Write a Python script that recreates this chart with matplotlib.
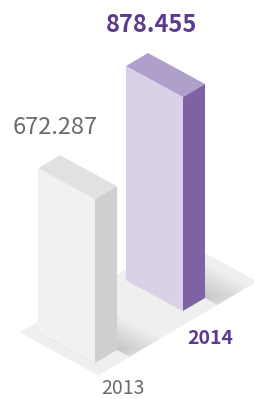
import matplotlib
matplotlib.use("Agg")
import matplotlib.pyplot as plt
from matplotlib.patches import Polygon
import numpy as np

# ---- data ----
years = ["2013", "2014"]
values = [672.287, 878.455]
value_labels = ["672.287", "878.455"]

# ---- style ----
front_colors = ["#f1f1f1", "#d9d1e8"]
top_colors = ["#e1e1e1", "#af9fcb"]
side_colors = ["#cfcfcf", "#7f62a6"]
text_colors = ["#6b6b6b", "#5b3a8f"]
text_weights = ["normal", "bold"]
floor_color = "#efefef"

plt.rcParams['font.family'] = ['Noto Sans CJK KR', 'DejaVu Sans']

fig = plt.figure(figsize=(2.54, 3.99), dpi=100)
ax = fig.add_axes([0, 0, 1, 1])
ax.set_xlim(0, 254)
ax.set_ylim(399, 0)
ax.axis("off")

# isometric projection (screen units)
origin = np.array([38.0, 332.0])
W = np.array([57.0, 31.0])     # bar width direction
D = np.array([22.0, -13.0])    # bar depth direction
k = 214.0 / max(values)        # height scale
depth_step = 4.0               # spacing of bars along depth
floor_u = (-0.16, 1.22)
floor_v = (-0.42, 6.8)


def P(u, v, h=0.0):
    p = origin + u * W + v * D
    return (p[0], p[1] - h * k)


def poly(pts, color, **kw):
    ax.add_patch(Polygon(pts, closed=True, facecolor=color, edgecolor="none", **kw))


# floor
poly([P(floor_u[0], floor_v[0]), P(floor_u[1], floor_v[0]),
      P(floor_u[1], floor_v[1]), P(floor_u[0], floor_v[1])], floor_color)

# draw farther bar first
order = sorted(range(len(values)), key=lambda i: -i)
for i in order:
    v0 = i * depth_step
    val = values[i]
    # soft shadow behind bar (toward depth), clipped at floor edge
    for s in np.linspace(1.4, 0.15, 10):
        ue = min(1.0 + 0.3 * s, floor_u[1])
        poly([P(0, v0 + 1), P(ue, v0 + 1), P(ue, v0 + 1 + s), P(0, v0 + 1 + s)],
             "#000000", alpha=0.015)
    # shadow along front bottom
    for s in np.linspace(0.12, 0.03, 4):
        poly([P(0, v0), P(1, v0), P(1 + s, v0 - s * 0.3), P(0.05, v0 - s * 0.3)], "#000000", alpha=0.02)
    # front face
    poly([P(0, v0), P(1, v0), P(1, v0, val), P(0, v0, val)], front_colors[i])
    # top face
    poly([P(0, v0, val), P(1, v0, val), P(1, v0 + 1, val), P(0, v0 + 1, val)], top_colors[i])
    # side face
    poly([P(1, v0), P(1, v0 + 1), P(1, v0 + 1, val), P(1, v0, val)], side_colors[i])

# value labels above bars
label_pos = [(55, 127), (152, 25)]
for i in range(len(values)):
    ax.text(label_pos[i][0], label_pos[i][1], value_labels[i], ha="center", va="center",
            fontsize=17, color=text_colors[i], fontweight=text_weights[i])

# year labels
year_pos = [(123, 389), (210, 338)]
for i in range(len(years)):
    ax.text(year_pos[i][0], year_pos[i][1], years[i], ha="center", va="center",
            fontsize=14, color=text_colors[i], fontweight=text_weights[i])

fig.savefig("out.png", dpi=100)
